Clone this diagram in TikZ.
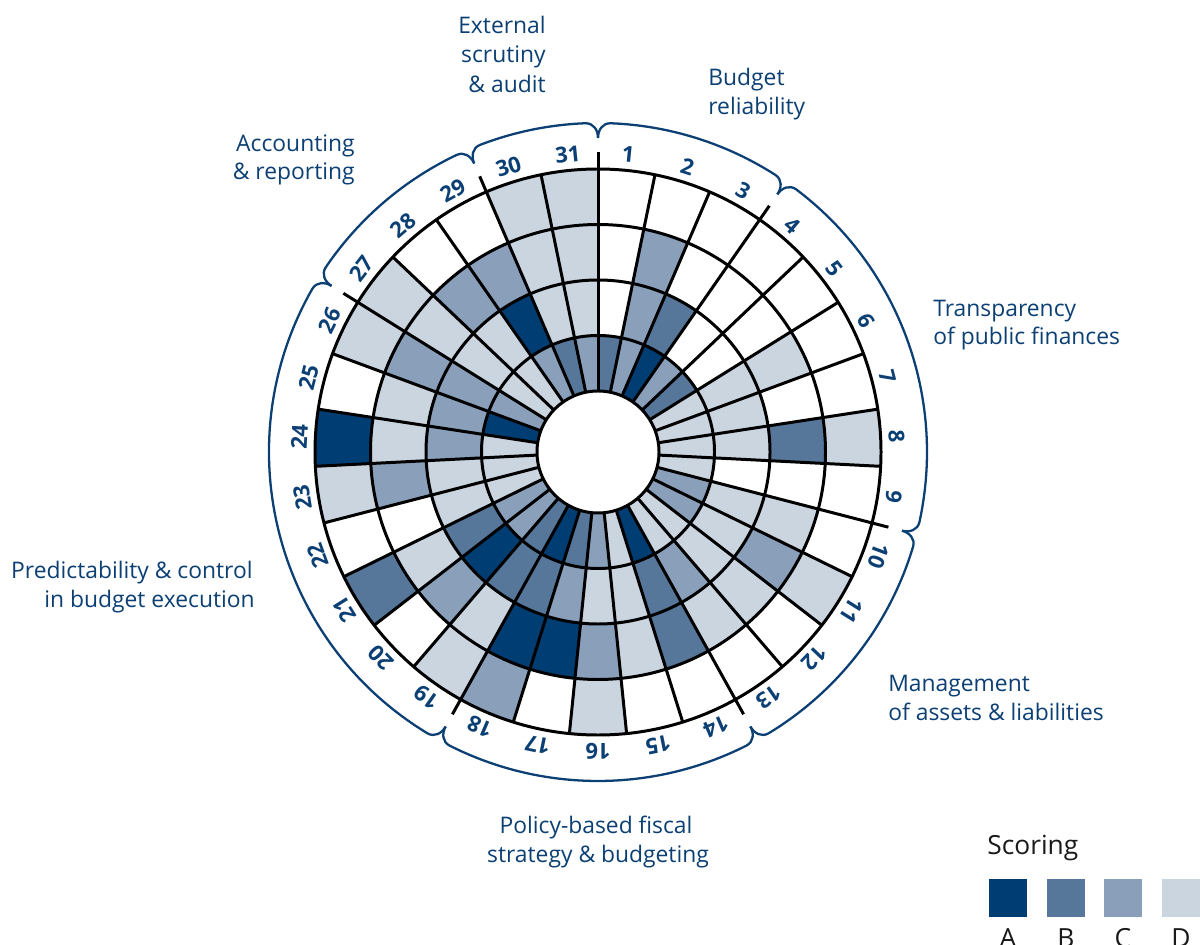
\documentclass[tikz,border=0pt]{standalone}
\usepackage{fontspec}
\setmainfont{Open Sans}
\definecolor{cA}{RGB}{0,61,115}
\definecolor{cB}{RGB}{86,118,154}
\definecolor{cC}{RGB}{138,159,186}
\definecolor{cD}{RGB}{203,213,224}
\definecolor{cW}{RGB}{255,255,255}
\definecolor{navy}{RGB}{12,64,116}
\definecolor{ink}{RGB}{26,26,26}
\begin{document}
\begin{tikzpicture}[x=0.02cm,y=0.02cm,
  grid/.style={line width=1.7pt,black},
  bracearc/.style={line width=1.3pt,navy},
  num/.style={font=\fontsize{12.5}{15}\selectfont\bfseries,text=navy,inner sep=0pt},
  lab/.style={font=\fontsize{13}{16}\selectfont,text=navy,inner sep=0pt},
  leg/.style={font=\fontsize{15}{18}\selectfont,text=ink,inner sep=0pt},
  sq/.style={minimum size=0.76cm,inner sep=0pt,draw=none}]
\fill[white] (0,0) rectangle (1200,-945);
\useasboundingbox (0,0) rectangle (1200,-945);
\def\seg{11.6129}
\begin{scope}[shift={(598,-452)}]
% cells
\foreach \k/\a/\b/\c/\d in {
 1/cB/cW/cW/cW, 2/cC/cC/cC/cW, 3/cA/cB/cW/cW, 4/cC/cW/cW/cW,
 5/cB/cW/cW/cW, 6/cD/cD/cD/cW, 7/cD/cD/cW/cW, 8/cD/cD/cB/cD,
 9/cD/cW/cW/cW, 10/cC/cD/cD/cW, 11/cC/cD/cC/cD, 12/cD/cD/cD/cW,
 13/cD/cC/cD/cW, 14/cA/cB/cB/cW, 15/cD/cD/cD/cW, 16/cC/cD/cC/cD,
 17/cB/cC/cA/cW, 18/cA/cB/cA/cC, 19/cB/cB/cD/cD, 20/cC/cA/cC/cW,
 21/cC/cB/cD/cB, 22/cD/cD/cW/cW, 23/cD/cD/cC/cD, 24/cD/cC/cD/cA,
 25/cA/cC/cD/cW, 26/cC/cC/cC/cD, 27/cD/cD/cD/cD, 28/cD/cD/cC/cW,
 29/cC/cA/cC/cW, 30/cB/cD/cD/cD, 31/cC/cD/cD/cD}{
  \foreach \ring/\col in {1/\a,2/\b,3/\c,4/\d}{
    \pgfmathsetmacro\rin{61+(\ring-1)*55.5}
    \pgfmathsetmacro\rout{\rin+55.5}
    \pgfmathsetmacro\as{90-(\k-1)*\seg}
    \pgfmathsetmacro\ae{90-\k*\seg}
    \fill[\col] (\as:\rin) arc[start angle=\as,end angle=\ae,radius=\rin]
      -- (\ae:\rout) arc[start angle=\ae,end angle=\as,radius=\rout] -- cycle;
  }
}
% radial lines
\foreach \k in {1,2,4,5,6,7,8,10,11,12,14,15,16,17,19,20,21,22,23,24,25,27,28,30}{
  \pgfmathsetmacro\aa{90-\k*\seg}
  \draw[grid] (\aa:61) -- (\aa:283);
}
\foreach \k in {0,3,9,13,18,26,29}{
  \pgfmathsetmacro\aa{90-\k*\seg}
  \draw[grid] (\aa:61) -- (\aa:300);
}
% rings
\foreach \r in {61,116.5,172,227.5,283}{
  \draw[grid] (0,0) circle[radius=\r];
}
% numbers
\foreach \k in {1,...,31}{
  \pgfmathsetmacro\am{90-(\k-0.5)*\seg}
  \pgfmathsetmacro\rot{-(\k-0.5)*\seg}
  \node[num,rotate=\rot] (n\k) at (\am:299) {\k};
}
% braces
\foreach \s/\e in {0/3,3/9,9/13,13/18,18/26,26/29,29/31}{
  \pgfmathsetmacro\as{90-\s*\seg}
  \pgfmathsetmacro\ae{90-\e*\seg}
  \pgfmathsetmacro\asa{\as-0.8}
  \pgfmathsetmacro\asb{\as-2.2}
  \pgfmathsetmacro\aea{\ae+0.8}
  \pgfmathsetmacro\aeb{\ae+2.2}
  \draw[bracearc] (\as:314) .. controls (\as:322) and (\asa:329) .. (\asb:329)
    arc[start angle=\asb,end angle=\aeb,radius=329]
    .. controls (\aea:329) and (\ae:322) .. (\ae:314);
}
\end{scope}
% group labels
\node[lab,anchor=base east] (ext1) at (546,-34) {External};
\node[lab,anchor=base east] (ext2) at (546,-63) {scrutiny};
\node[lab,anchor=base east] (ext3) at (546,-93) {\& audit};
\node[lab,anchor=base west] (bud1) at (708,-86) {Budget};
\node[lab,anchor=base west] (bud2) at (708,-115) {reliability};
\node[lab,anchor=base west] (tra1) at (933,-317) {Transparency};
\node[lab,anchor=base west] (tra2) at (933,-345) {of public finances};
\node[lab,anchor=base west] (man1) at (888,-691) {Management};
\node[lab,anchor=base west] (man2) at (888,-720) {of assets \& liabilities};
\node[lab,anchor=base] (pol1) at (596,-833) {Policy-based fiscal};
\node[lab,anchor=base] (pol2) at (598,-862) {strategy \& budgeting};
\node[lab,anchor=base east] (pre1) at (253,-579) {Predictability \& control};
\node[lab,anchor=base east] (pre2) at (255,-607) {in budget execution};
\node[lab,anchor=base east] (acc1) at (355,-152) {Accounting};
\node[lab,anchor=base east] (acc2) at (355,-180) {\& reporting};
% legend
\node[leg,anchor=base west] (scoring) at (987,-854) {Scoring};
\node[sq,fill=cA] (sqA) at (1008,-898) {};
\node[sq,fill=cB] (sqB) at (1066,-898) {};
\node[sq,fill=cC] (sqC) at (1123,-898) {};
\node[sq,fill=cD] (sqD) at (1181,-898) {};
\node[leg,anchor=base] (lA) at (1008,-947) {A};
\node[leg,anchor=base] (lB) at (1066,-947) {B};
\node[leg,anchor=base] (lC) at (1123,-947) {C};
\node[leg,anchor=base] (lD) at (1181,-947) {D};
\end{tikzpicture}
\end{document}
